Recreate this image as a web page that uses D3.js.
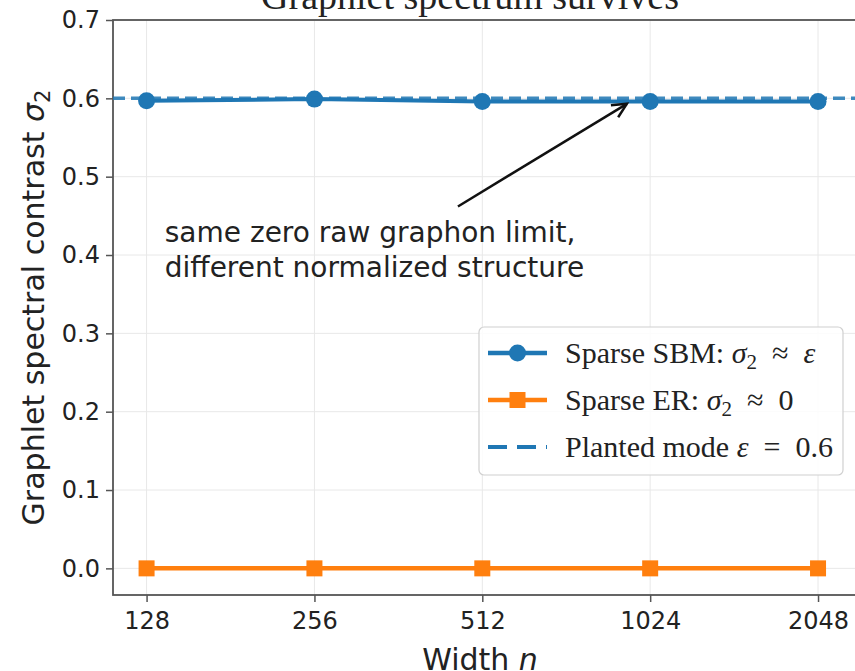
<!DOCTYPE html>
<html>
<head>
<meta charset="utf-8">
<script src="https://cdn.jsdelivr.net/npm/d3@7"></script>
<style>
  body { margin: 0; background: #fff; }
</style>
</head>
<body>
<div id="chart"></div>
<script>
// values
const widths = [128, 256, 512, 1024, 2048];
const sbmContrast = [0.597, 0.599, 0.596, 0.596, 0.596];
const erContrast = [0, 0, 0, 0, 0];
const plantedEps = 0.6;
const yTickValues = [0, 0.1, 0.2, 0.3, 0.4, 0.5, 0.6, 0.7];
const noteLines = ["same zero raw graphon limit,", "different normalized structure"];

const W = 855, H = 671;
const BLUE = "#1f77b4", ORANGE = "#ff7f0e";
const SANS = "'DejaVu Sans', sans-serif";
const SERIF = "'Liberation Serif', 'Times New Roman', serif";

const svg = d3.select("#chart").append("svg")
  .attr("width", W).attr("height", H)
  .style("font-family", SANS);

const x = d3.scaleLog().base(2).domain([2 ** 6.8, 2 ** 11.25]).range([113, 860]);
const y = d3.scaleLinear().domain([-0.034, 0.7]).range([595, 20]);
const [x0, x1] = x.range();
const [yb, yt] = y.range();

svg.append("defs").append("clipPath").attr("id", "plot-clip")
  .append("rect").attr("x", x0).attr("y", yt).attr("width", x1 - x0).attr("height", yb - yt);

/* grid */
const grid = svg.append("g").attr("stroke", "#e8e8e8").attr("stroke-width", 1);
grid.selectAll(".gx").data(widths).enter().append("line")
  .attr("x1", d => x(d)).attr("x2", d => x(d)).attr("y1", yt).attr("y2", yb);
grid.selectAll(".gy").data(yTickValues).enter().append("line")
  .attr("x1", x0).attr("x2", x1).attr("y1", d => y(d)).attr("y2", d => y(d));

/* axes */
const yAxis = svg.append("g").attr("transform", `translate(${x0},0)`)
  .call(d3.axisLeft(y).tickValues(yTickValues).tickFormat(d3.format(".1f"))
    .tickSizeInner(7).tickSizeOuter(0).tickPadding(6));
const xAxis = svg.append("g").attr("transform", `translate(0,${yb})`)
  .call(d3.axisBottom(x).tickValues(widths).tickFormat(d => d)
    .tickSizeInner(7).tickSizeOuter(0).tickPadding(10));
[yAxis, xAxis].forEach(a => {
  a.select(".domain").remove();
  a.selectAll("line").attr("stroke", "#555").attr("stroke-width", 1.5);
  a.selectAll("text").style("font-size", "24px").style("font-family", SANS).attr("fill", "#222");
});

/* frame */
svg.append("rect").attr("x", x0).attr("y", yt).attr("width", x1 - x0).attr("height", yb - yt)
  .attr("fill", "none").attr("stroke", "#555").attr("stroke-width", 1.8);

/* axis labels */
const yl = svg.append("text").attr("transform", `translate(44,${(yt + yb) / 2}) rotate(-90)`)
  .attr("text-anchor", "middle").style("font-size", "30px").attr("fill", "#222");
yl.append("tspan").text("Graphlet spectral contrast ");
yl.append("tspan").style("font-style", "italic").text("σ");
yl.append("tspan").attr("dy", 6).style("font-size", "21px").text("2");

const xl = svg.append("text").attr("x", 480).attr("y", 670)
  .attr("text-anchor", "middle").style("font-size", "30px").attr("fill", "#222");
xl.append("tspan").text("Width ");
xl.append("tspan").style("font-style", "italic").text("n");

/* title (mostly above the visible area in the reference) */
svg.append("text").attr("x", 470).attr("y", 9).attr("text-anchor", "middle")
  .style("font-family", SERIF).style("font-size", "38px").attr("fill", "#222")
  .text("Graphlet spectrum survives");

/* series */
const plot = svg.append("g").attr("clip-path", "url(#plot-clip)");
const line = d3.line().x(d => x(d[0])).y(d => y(d[1]));
const sbm = widths.map((w, i) => [w, sbmContrast[i]]);
const er = widths.map((w, i) => [w, erContrast[i]]);

plot.append("path").datum(sbm).attr("d", line)
  .attr("fill", "none").attr("stroke", BLUE).attr("stroke-width", 4);
plot.selectAll(".sbm-dot").data(sbm).enter().append("circle")
  .attr("cx", d => x(d[0])).attr("cy", d => y(d[1])).attr("r", 8.5).attr("fill", BLUE);

plot.append("path").datum(er).attr("d", line)
  .attr("fill", "none").attr("stroke", ORANGE).attr("stroke-width", 4.5);
plot.selectAll(".er-sq").data(er).enter().append("rect")
  .attr("x", d => x(d[0]) - 8).attr("y", d => y(d[1]) - 8)
  .attr("width", 16).attr("height", 16).attr("fill", ORANGE);

plot.append("line").attr("x1", x0).attr("x2", x1)
  .attr("y1", y(plantedEps)).attr("y2", y(plantedEps))
  .attr("stroke", BLUE).attr("stroke-width", 3.5).attr("stroke-dasharray", "12,6")
  .attr("opacity", 0.85);

/* annotation */
const note = svg.append("text").style("font-size", "28px").attr("fill", "#222");
noteLines.forEach((t, i) => {
  note.append("tspan").attr("x", x(138)).attr("y", y(0.416) + i * 35).text(t);
});
const tail = [x(463), y(0.462)];
const tip = [x(930), y(0.593)];
const ang = Math.atan2(tip[1] - tail[1], tip[0] - tail[0]);
const headLen = 16, headAng = 0.45;
svg.append("line").attr("x1", tail[0]).attr("y1", tail[1]).attr("x2", tip[0]).attr("y2", tip[1])
  .attr("stroke", "#111").attr("stroke-width", 2.5);
svg.append("path")
  .attr("d", `M${tip[0] - headLen * Math.cos(ang - headAng)},${tip[1] - headLen * Math.sin(ang - headAng)}` +
    `L${tip[0]},${tip[1]}` +
    `L${tip[0] - headLen * Math.cos(ang + headAng)},${tip[1] - headLen * Math.sin(ang + headAng)}`)
  .attr("fill", "none").attr("stroke", "#111").attr("stroke-width", 2.5).attr("stroke-linejoin", "miter");

/* legend */
const legend = svg.append("g").attr("transform", "translate(479,327)")
  .style("font-family", SERIF).style("font-size", "30px");
legend.append("rect").attr("width", 364).attr("height", 148).attr("rx", 5)
  .attr("fill", "#fff").attr("fill-opacity", 0.85).attr("stroke", "#d0d0d0").attr("stroke-width", 1.2);

const rows = [
  { kind: "sbm", parts: [["Sparse SBM: "], ["σ", "i"], ["2", "s"], ["\u2002≈\u2002"], ["ε", "i"]] },
  { kind: "er", parts: [["Sparse ER: "], ["σ", "i"], ["2", "s"], ["\u2002≈\u20020"]] },
  { kind: "eps", parts: [["Planted mode "], ["ε", "i"], ["\u2002=\u20020.6"]] },
];
rows.forEach((r, i) => {
  const g = legend.append("g").attr("transform", `translate(0,${26 + i * 47})`);
  if (r.kind === "eps") {
    g.append("line").attr("x1", 9).attr("x2", 68).attr("stroke", BLUE).attr("stroke-width", 4)
      .attr("stroke-dasharray", "19,10");
  } else {
    const c = r.kind === "sbm" ? BLUE : ORANGE;
    g.append("line").attr("x1", 9).attr("x2", 68).attr("stroke", c).attr("stroke-width", 4.5);
    if (r.kind === "sbm") g.append("circle").attr("cx", 38.5).attr("r", 8.5).attr("fill", c);
    else g.append("rect").attr("x", 30.5).attr("y", -8).attr("width", 16).attr("height", 16).attr("fill", c);
  }
  const t = g.append("text").attr("x", 86).attr("y", 10).attr("fill", "#222");
  r.parts.forEach(([s, f]) => {
    const sp = t.append("tspan").text(s);
    if (f === "i") sp.style("font-style", "italic");
    if (f === "s") { sp.attr("dy", 6).style("font-size", "21px"); }
    else if (sp.node().previousSibling && sp.node().previousSibling.textContent === "2") sp.attr("dy", -6);
  });
});
</script>
</body>
</html>
